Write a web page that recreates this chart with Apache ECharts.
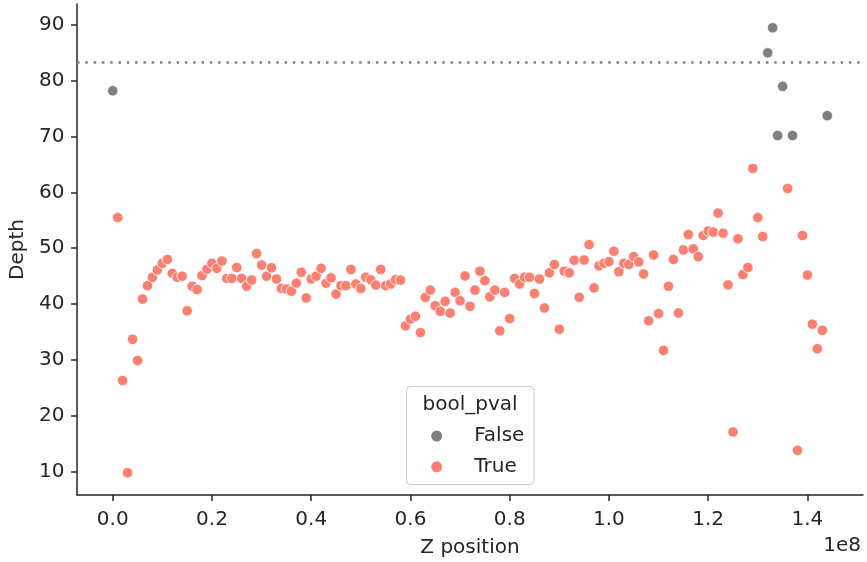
<!DOCTYPE html>
<html>
<head>
<meta charset="utf-8">
<script src="https://cdn.jsdelivr.net/npm/echarts@6/dist/echarts.min.js"></script>
<style>
html,body{margin:0;padding:0;background:#fff;}
#chart{width:867px;height:562px;}
</style>
</head>
<body>
<div id="chart"></div>
<script>
// Z positions in Mb (x axis shown in units of 1e8)
const falsePos = [0, 132, 133, 134, 135, 137, 144];
const falseDepth = [78.2, 85.0, 89.5, 70.2, 79.0, 70.2, 73.75];

const truePos = [1, 2, 3, 4, 5, 6, 7, 8, 9, 10, 11, 12, 13, 14, 15, 16, 17, 18, 19, 20,
  21, 22, 23, 24, 25, 26, 27, 28, 29, 30, 31, 32, 33, 34, 35, 36, 37, 38, 39, 40,
  41, 42, 43, 44, 45, 46, 47, 48, 49, 50, 51, 52, 53, 54, 55, 56, 57, 58, 59, 60,
  61, 62, 63, 64, 65, 66, 67, 68, 69, 70, 71, 72, 73, 74, 75, 76, 77, 78, 79, 80,
  81, 82, 83, 84, 85, 86, 87, 88, 89, 90, 91, 92, 93, 94, 95, 96, 97, 98, 99, 100,
  101, 102, 103, 104, 105, 106, 107, 108, 109, 110, 111, 112, 113, 114, 115, 116, 117, 118, 119, 120,
  121, 122, 123, 124, 125, 126, 127, 128, 129, 130, 131, 136, 138, 139, 140, 141, 142, 143];
const trueDepth = [55.5, 26.3, 9.8, 33.7, 29.9, 40.9, 43.3, 44.8, 46.1, 47.3, 48.0, 45.5, 44.8, 45.0, 38.8, 43.2, 42.6, 45.1, 46.25, 47.3,
  46.4, 47.7, 44.6, 44.6, 46.55, 44.6, 43.2, 44.3, 49.05, 47.0, 45.0, 46.5, 44.5, 42.8, 42.7, 42.3, 43.75, 45.7, 41.1, 44.5,
  45.0, 46.4, 43.75, 44.7, 41.8, 43.3, 43.3, 46.2, 43.6, 42.8, 44.8, 44.35, 43.4, 46.2, 43.3, 43.6, 44.35, 44.3, 36.1, 37.3,
  37.8, 34.9, 41.2, 42.5, 39.7, 38.7, 40.5, 38.4, 42.1, 40.6, 45.05, 39.6, 42.5, 45.9, 44.2, 41.3, 42.5, 35.2, 42.1, 37.4,
  44.6, 43.6, 44.8, 44.8, 41.9, 44.5, 39.3, 45.6, 47.1, 35.5, 45.9, 45.6, 47.85, 41.2, 47.9, 50.65, 42.9, 46.85, 47.3, 47.6,
  49.45, 45.8, 47.3, 47.1, 48.5, 47.55, 45.4, 37.0, 48.8, 38.3, 31.7, 43.2, 48.0, 38.4, 49.7, 52.45, 49.9, 48.5, 52.3, 53.1,
  52.9, 56.3, 52.7, 43.45, 17.1, 51.7, 45.3, 46.55, 64.3, 55.5, 52.1, 60.7, 13.8, 52.3, 45.2, 36.4, 32.0, 35.3];

const threshold = 83.3;
const xTicks = [0, 20, 40, 60, 80, 100, 120, 140];
const yTicks = [10, 20, 30, 40, 50, 60, 70, 80, 90];
const legendTitle = 'bool_pval';
const seriesNames = ['False', 'True'];

const FONT = 'DejaVu Sans';
const TXT = '#262626';
const FS = 20;

function pairs(xs, ys) { return xs.map((x, i) => [x, ys[i]]); }

const chart = echarts.init(document.getElementById('chart'), null, {renderer: 'canvas'});
chart.setOption({
  animation: false,
  backgroundColor: '#ffffff',
  textStyle: {fontFamily: FONT},
  grid: {left: 77, right: 4, top: 4, bottom: 67, containLabel: false, outerBoundsMode: 'none'},
  xAxis: {
    type: 'value', min: -7.2, max: 151.2,
    name: 'Z position', nameLocation: 'middle', nameGap: 43,
    nameTextStyle: {fontFamily: FONT, fontSize: FS, color: TXT},
    axisLine: {show: true, onZero: false, lineStyle: {color: TXT, width: 1.5}},
    axisTick: {show: true, length: 6, lineStyle: {color: TXT, width: 1.5}, customValues: xTicks},
    axisLabel: {customValues: xTicks, fontFamily: FONT, fontSize: FS, color: TXT, margin: 14.5,
      formatter: v => (v / 100).toFixed(1)},
    splitLine: {show: false}
  },
  yAxis: {
    type: 'value', min: 5.8, max: 93.75,
    name: 'Depth', nameLocation: 'middle', nameGap: 49, nameRotate: 90,
    nameTextStyle: {fontFamily: FONT, fontSize: FS, color: TXT},
    axisLine: {show: true, onZero: false, lineStyle: {color: TXT, width: 1.5}},
    axisTick: {show: true, length: 6, lineStyle: {color: TXT, width: 1.5}, customValues: yTicks},
    axisLabel: {customValues: yTicks, fontFamily: FONT, fontSize: FS, color: TXT, margin: 12.5,
      formatter: v => String(Math.round(v))},
    splitLine: {show: false}
  },
  legend: {
    data: seriesNames, orient: 'vertical', left: 429.2, top: 426, padding: 0,
    itemWidth: 13, itemHeight: 13, itemGap: 10.8, z: 5,
    textStyle: {fontFamily: FONT, fontSize: FS, color: TXT, lineHeight: 13, padding: [0, 0, 0, 26]}
  },
  graphic: [
    {type: 'rect', z: 3, shape: {x: 406.5, y: 386.5, width: 127.5, height: 98, r: 4},
      style: {fill: 'rgba(255,255,255,0.8)', stroke: '#cccccc', lineWidth: 1}},
    {type: 'text', z: 6, x: 470, y: 405, style: {text: legendTitle, font: FS + 'px "DejaVu Sans"', fill: TXT,
      textAlign: 'center', textVerticalAlign: 'middle'}},
    {type: 'text', z: 6, x: 861, y: 546, style: {text: '1e8', font: FS + 'px "DejaVu Sans"', fill: TXT,
      textAlign: 'right', textVerticalAlign: 'middle'}}
  ],
  series: [
    {name: 'False', type: 'scatter', data: pairs(falsePos, falseDepth), symbol: 'circle', symbolSize: 10.5,
      itemStyle: {color: '#808080', borderColor: '#ffffff', borderWidth: 0.8, opacity: 1}},
    {name: 'True', type: 'scatter', data: pairs(truePos, trueDepth), symbol: 'circle', symbolSize: 10.5,
      itemStyle: {color: '#fa8072', borderColor: '#ffffff', borderWidth: 0.8, opacity: 1},
      markLine: {silent: true, symbol: ['none', 'none'], label: {show: false},
        lineStyle: {color: '#808080', type: [2.5, 5.8], width: 2.5},
        data: [{yAxis: threshold}]}}
  ]
});
</script>
</body>
</html>
